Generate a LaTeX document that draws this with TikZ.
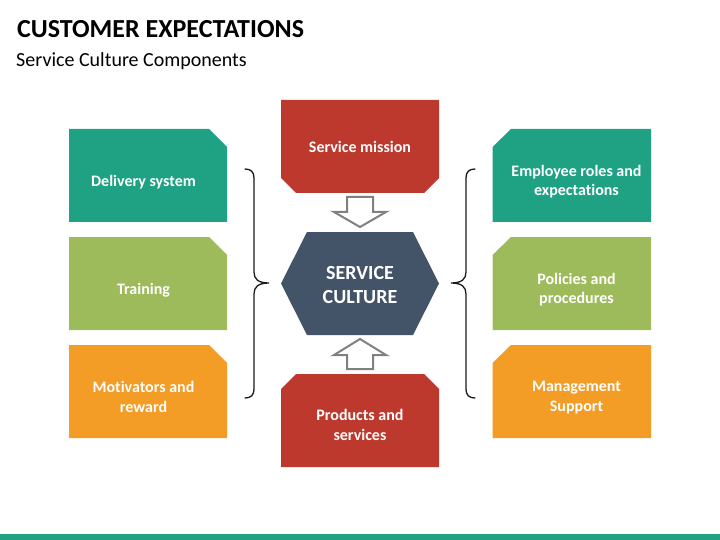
\documentclass[tikz,border=0pt]{standalone}
\usepackage{fontspec}
\setmainfont[Ligatures=NoCommon]{Carlito}
\definecolor{teal1}{HTML}{1FA184}
\definecolor{lime1}{HTML}{9EBB5C}
\definecolor{orange1}{HTML}{F39C26}
\definecolor{red1}{HTML}{BD382D}
\definecolor{navy1}{HTML}{435368}
\tikzset{
  boxlabel/.style={text=white,font=\fontsize{16pt}{19.5pt}\selectfont\bfseries,align=center,inner sep=0pt},
  hexlabel/.style={text=white,font=\fontsize{20pt}{24pt}\selectfont\bfseries,align=center,inner sep=0pt},
  blockarrow/.style={draw=black!50,line width=2pt,fill=white,line join=miter},
  bracket/.style={draw=black!90,line width=1.3pt,line cap=round}
}
\begin{document}
\begin{tikzpicture}[x=1pt,y=-1pt]
\useasboundingbox (0,0) rectangle (720,540);
\fill[teal1] (0,534) rectangle (720,540);
\node[anchor=west,inner sep=0pt,font=\fontsize{26pt}{30pt}\selectfont\bfseries] (title) at (17,29) {CUSTOMER EXPECTATIONS};
\node[anchor=west,inner sep=0pt,font=\fontsize{20pt}{24pt}\selectfont] (subtitle) at (16,61) {Service Culture Components};
% left boxes
\fill[teal1] (69,129) -- (209,129) -- (227,147) -- (227,222) -- (69,222) -- cycle;
\node[boxlabel] (delivery) at (143.5,182) {Delivery system};
\fill[lime1] (69,237) -- (209,237) -- (227,255) -- (227,330) -- (69,330) -- cycle;
\node[boxlabel] (training) at (143.5,290) {Training};
\fill[orange1] (69,345) -- (209,345) -- (227,363) -- (227,438) -- (69,438) -- cycle;
\node[boxlabel] (motivators) at (143.5,397) {Motivators and\\reward};
% right boxes
\fill[teal1] (511,129) -- (651,129) -- (651,222) -- (492.5,222) -- (492.5,147) -- cycle;
\node[boxlabel] (roles) at (576.5,181.5) {Employee roles and\\expectations};
\fill[lime1] (511,237) -- (651,237) -- (651,330) -- (492.5,330) -- (492.5,255) -- cycle;
\node[boxlabel] (policies) at (576.5,289.5) {Policies and\\procedures};
\fill[orange1] (511,345) -- (651,345) -- (651,438) -- (492.5,438) -- (492.5,363) -- cycle;
\node[boxlabel] (management) at (576.5,397.5) {Management\\Support};
% centre column
\fill[red1] (281,100) -- (439,100) -- (439,178) -- (424,193) -- (296,193) -- (281,178) -- cycle;
\node[boxlabel] (mission) at (360,147) {Service mission};
\fill[red1] (296,374) -- (424,374) -- (439,389) -- (439,467) -- (281,467) -- (281,389) -- cycle;
\node[boxlabel] (products) at (360,425) {Products and\\services};
\fill[navy1] (307,232) -- (413,232) -- (439,283.5) -- (413,335) -- (307,335) -- (281,283.5) -- cycle;
\node[hexlabel] (culture) at (360,285) {SERVICE\\CULTURE};
% block arrows
\draw[blockarrow] (347,197) -- (373,197) -- (373,212) -- (386,212) -- (360,227) -- (334,212) -- (347,212) -- cycle;
\draw[blockarrow] (360,339) -- (386,355) -- (373,355) -- (373,369) -- (347,369) -- (347,355) -- (334,355) -- cycle;
% braces
\draw[bracket] (245,169) .. controls (251,169) and (254,172) .. (254,178) -- (254,272) .. controls (254,279) and (258,283) .. (269,283) .. controls (258,283) and (254,287) .. (254,294) -- (254,389) .. controls (254,395) and (251,398) .. (245,398);
\draw[bracket] (475,169) .. controls (469,169) and (466,172) .. (466,178) -- (466,272) .. controls (466,279) and (462,283) .. (451,283) .. controls (462,283) and (466,287) .. (466,294) -- (466,389) .. controls (466,395) and (469,398) .. (475,398);
\end{tikzpicture}
\end{document}
